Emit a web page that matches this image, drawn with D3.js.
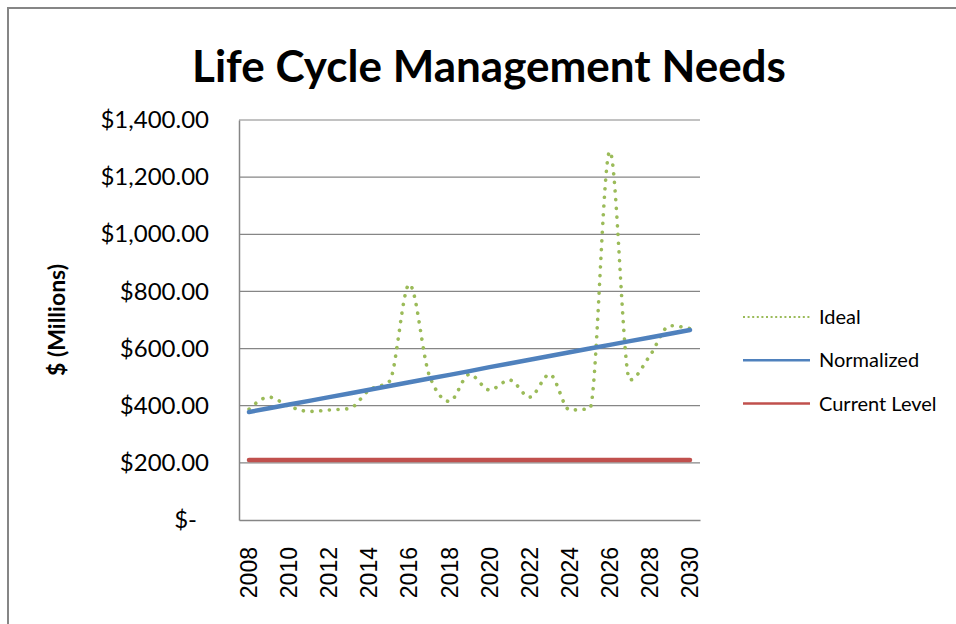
<!DOCTYPE html>
<html>
<head>
<meta charset="utf-8">
<script src="https://cdn.jsdelivr.net/npm/d3@7"></script>
<style>
	body { margin: 0; background: #fff; }
</style>
</head>
<body>
<div id="chart"></div>
<script>
// data
var years = ["2008", "2009", "2010", "2011", "2012", "2013", "2014", "2015", "2016", "2017", "2018", "2019",
	"2020", "2021", "2022", "2023", "2024", "2025", "2026", "2027", "2028", "2029", "2030"];
var ideal = [388, 430, 398, 380, 385, 390, 455, 485, 825, 505, 415, 510,
	455, 490, 430, 510, 385, 390, 1290, 490, 575, 680, 670];
var normalized = [378, 391, 404, 417, 430, 443, 456, 469, 482, 495, 508, 521,
	535, 548, 561, 574, 587, 600, 613, 626, 639, 652, 665];
var currentLevel = [210, 210, 210, 210, 210, 210, 210, 210, 210, 210, 210, 210,
	210, 210, 210, 210, 210, 210, 210, 210, 210, 210, 210];
var yTicks = [0, 200, 400, 600, 800, 1000, 1200, 1400];
var xTickLabels = ["2008", "2010", "2012", "2014", "2016", "2018", "2020", "2022", "2024", "2026", "2028", "2030"];

var seriesNames = ["Ideal", "Normalized", "Current Level"];
var seriesColors = ["#9BBB59", "#4F81BD", "#C0504D"];

// plot area
var plotLeft = 239, plotRight = 700, plotTop = 120, plotBottom = 520;

var svg = d3.select("#chart")
	.append("svg")
	.attr("width", 956)
	.attr("height", 624);

// outer frame (runs off the picture at right and bottom)
svg.append("rect")
	.attr("x", 8)
	.attr("y", 8)
	.attr("width", 1200)
	.attr("height", 1200)
	.attr("fill", "#fff")
	.attr("stroke", "#868686")
	.attr("stroke-width", 2);

var x = d3.scaleBand()
	.domain(years)
	.range([plotLeft, plotRight]);

var y = d3.scaleLinear()
	.domain([0, 1400])
	.range([plotBottom, plotTop]);

// gridlines
svg.append("g")
	.selectAll("line")
	.data(yTicks.filter(function(d) { return d > 0; }))
	.enter()
	.append("line")
	.attr("x1", plotLeft)
	.attr("x2", plotRight)
	.attr("y1", function(d) { return y(d); })
	.attr("y2", function(d) { return y(d); })
	.attr("stroke", "#868686")
	.attr("stroke-width", 1.2);

// y axis
var yAxis = svg.append("g")
	.attr("transform", "translate(" + plotLeft + ",0)")
	.call(d3.axisLeft(y)
		.tickValues(yTicks)
		.tickSize(0)
		.tickPadding(30)
		.tickFormat(function(d) {
			return d === 0 ? "$-" : "$" + d3.format(",.2f")(d);
		}));
yAxis.select(".domain").attr("stroke", "#868686").attr("stroke-width", 1.5);
yAxis.selectAll("text")
	.style("font-family", "Lato, sans-serif")
	.style("font-size", "24px")
	.attr("fill", "#000");
yAxis.selectAll(".tick")
	.filter(function(d) { return d === 0; })
	.select("text")
	.attr("dx", -12);

// x axis
var xAxis = svg.append("g")
	.attr("transform", "translate(0," + plotBottom + ")")
	.call(d3.axisBottom(x)
		.tickValues(xTickLabels)
		.tickSize(0));
xAxis.select(".domain").attr("stroke", "#868686").attr("stroke-width", 1.5);
xAxis.selectAll("text")
	.style("font-family", "'Liberation Sans', Arial, sans-serif")
	.style("font-size", "23px")
	.attr("fill", "#000")
	.attr("text-anchor", "end")
	.attr("transform", "rotate(-90)")
	.attr("x", -27)
	.attr("y", 0)
	.attr("dy", "0.35em");

// lines
var line = d3.line()
	.x(function(d, i) { return x(years[i]) + x.bandwidth() / 2; })
	.y(function(d) { return y(d); });

var smooth = d3.line()
	.curve(d3.curveMonotoneX)
	.x(function(d, i) { return x(years[i]) + x.bandwidth() / 2; })
	.y(function(d) { return y(d); });

svg.append("path")
	.datum(currentLevel)
	.attr("d", line)
	.attr("fill", "none")
	.attr("stroke", seriesColors[2])
	.attr("stroke-width", 4.5)
	.attr("stroke-linecap", "round");

svg.append("path")
	.datum(ideal)
	.attr("d", smooth)
	.attr("fill", "none")
	.attr("stroke", seriesColors[0])
	.attr("stroke-width", 3.6)
	.attr("stroke-linecap", "round")
	.attr("stroke-dasharray", "0.1 8.6");

svg.append("path")
	.datum(normalized)
	.attr("d", line)
	.attr("fill", "none")
	.attr("stroke", seriesColors[1])
	.attr("stroke-width", 4.5)
	.attr("stroke-linecap", "round");

// legend
var legend = svg.selectAll(".legend")
	.data(seriesNames)
	.enter()
	.append("g")
	.attr("class", "legend")
	.attr("transform", function(d, i) {
		return "translate(743," + (317 + i * 43.3) + ")";
	});

legend.append("line")
	.attr("x1", 0)
	.attr("x2", 67)
	.attr("stroke", function(d, i) { return seriesColors[i]; })
	.attr("stroke-width", function(d, i) { return i === 0 ? 2 : 2.5; })
	.attr("stroke-dasharray", function(d, i) { return i === 0 ? "2 2.6" : null; });

legend.append("text")
	.attr("x", 76)
	.attr("dy", "0.35em")
	.style("font-family", "Lato, sans-serif")
	.style("font-size", "20px")
	.text(function(d) { return d; });

// title
svg.append("text")
	.attr("x", 489)
	.attr("y", 82)
	.attr("text-anchor", "middle")
	.style("font-family", "Lato, sans-serif")
	.style("font-weight", "bold")
	.style("font-size", "44px")
	.text("Life Cycle Management Needs");

// y axis title
svg.append("text")
	.attr("transform", "translate(65,320) rotate(-90)")
	.attr("text-anchor", "middle")
	.style("font-family", "Lato, sans-serif")
	.style("font-weight", "bold")
	.style("font-size", "23px")
	.text("$ (Millions)");
</script>
</body>
</html>
